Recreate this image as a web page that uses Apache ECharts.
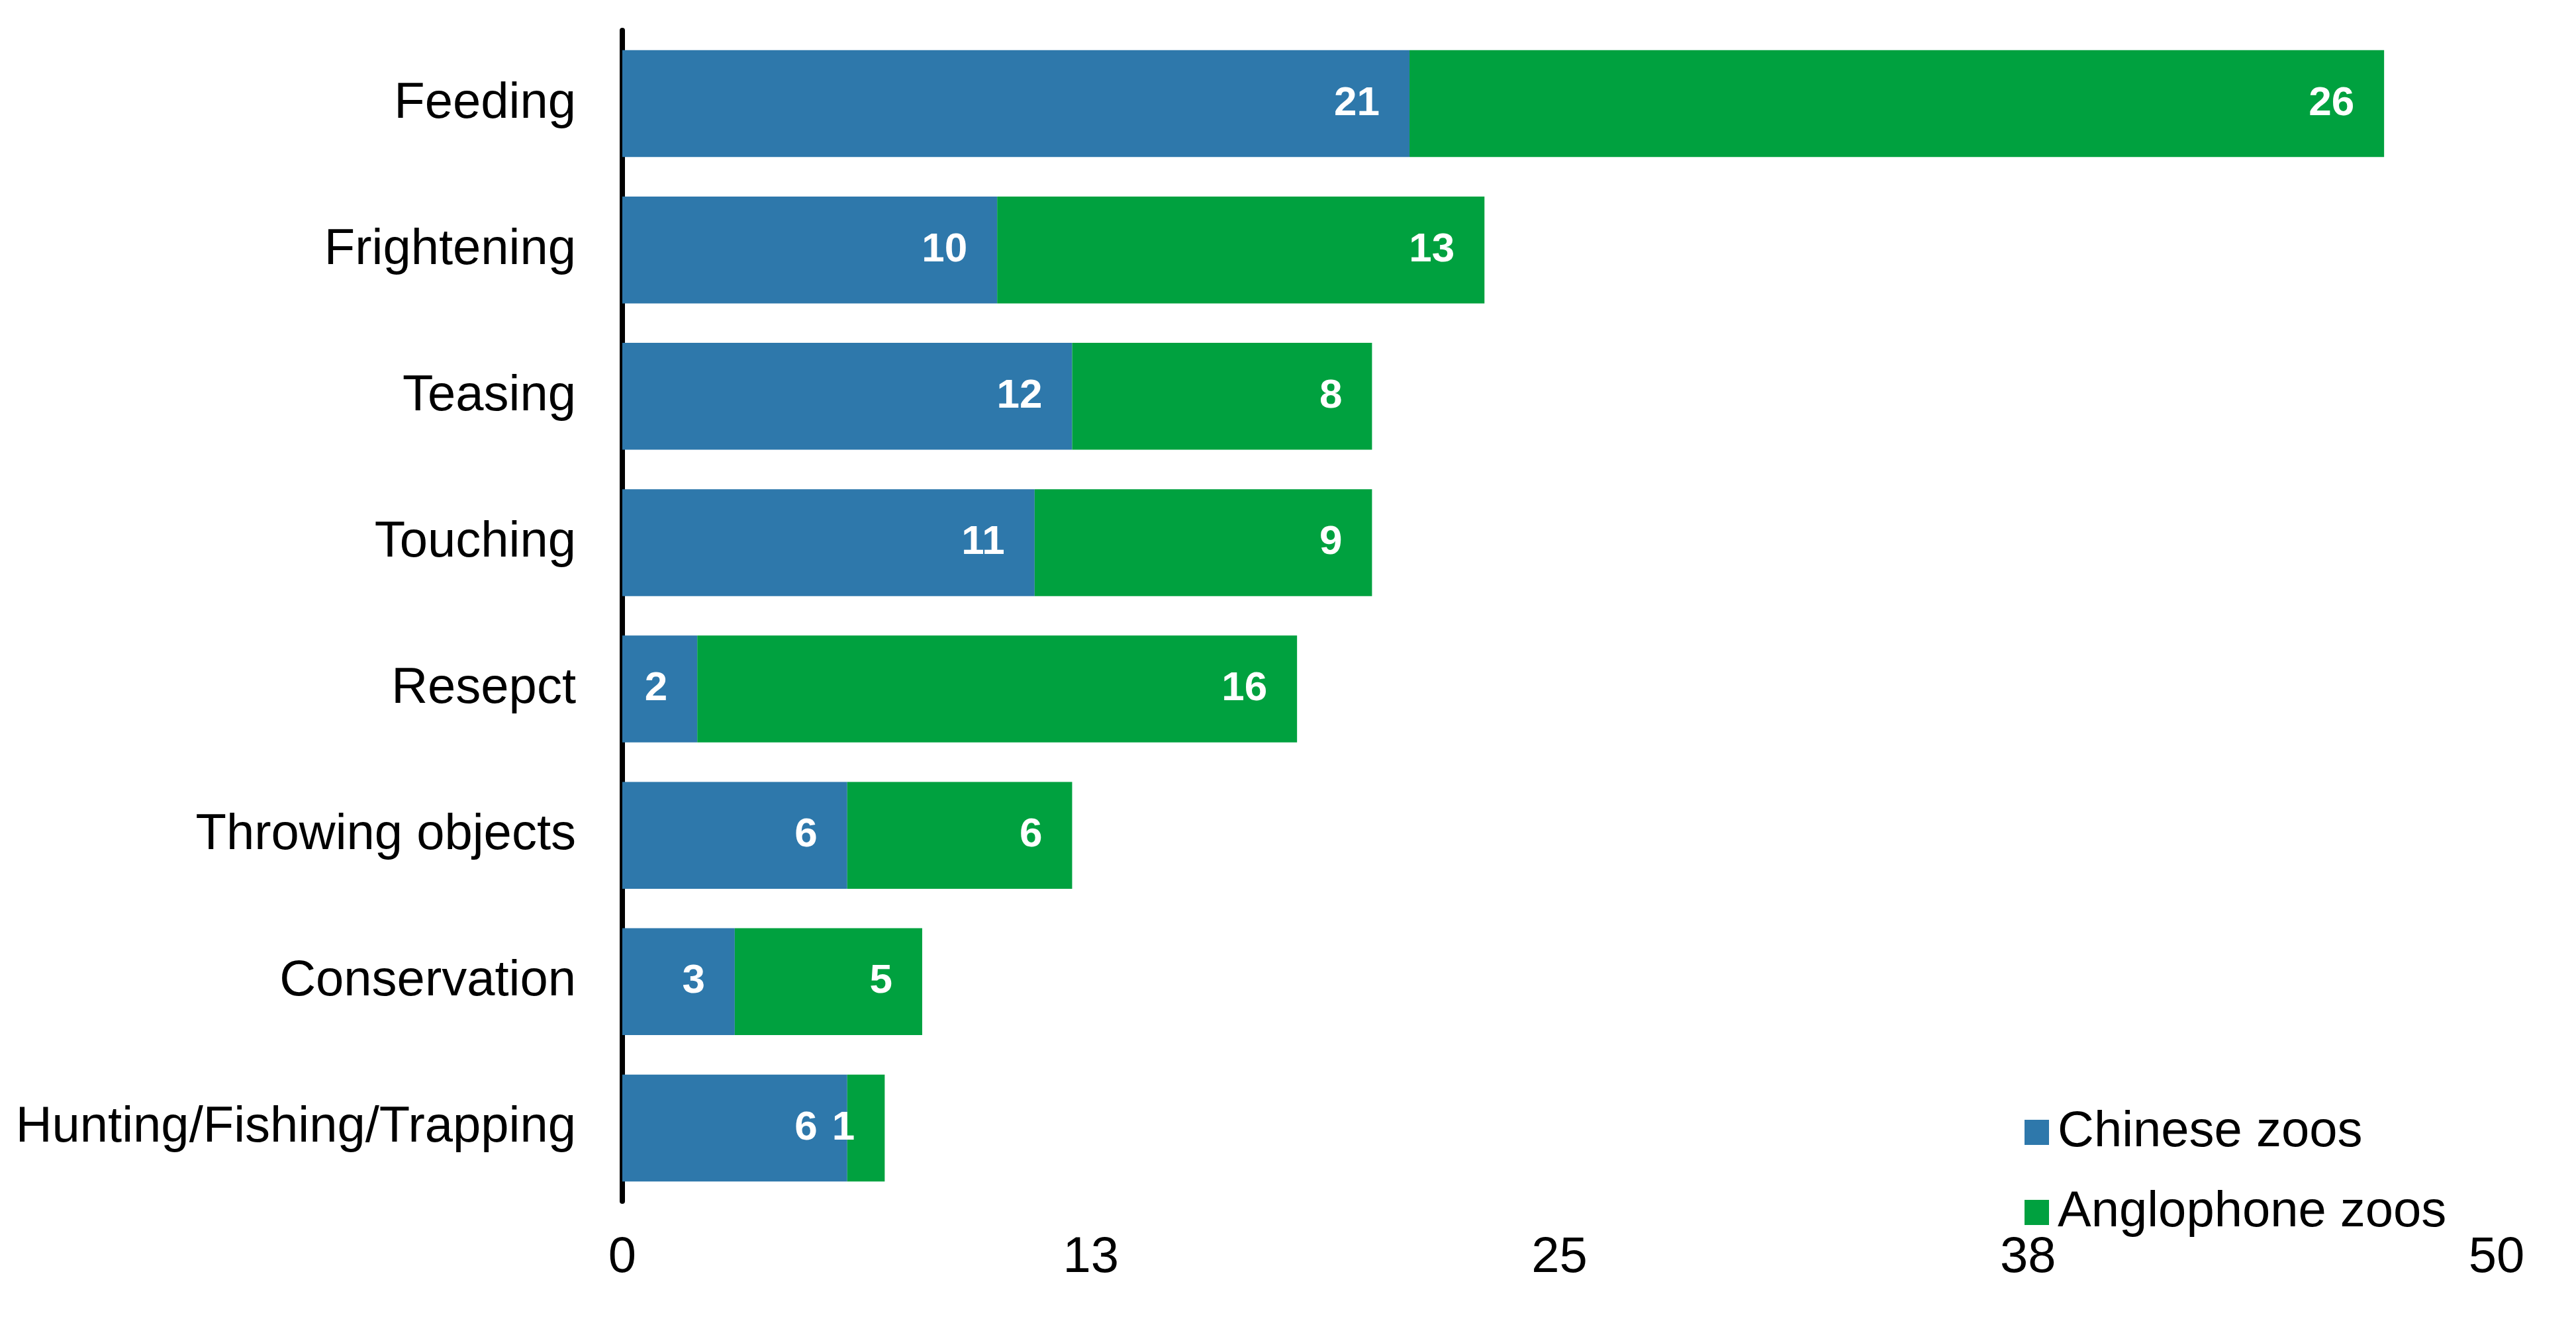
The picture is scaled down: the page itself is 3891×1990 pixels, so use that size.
<!DOCTYPE html>
<html>
<head>
<meta charset="utf-8">
<script src="https://cdn.jsdelivr.net/npm/echarts@6/dist/echarts.min.js"></script>
<style>
html,body{margin:0;padding:0;background:#fff;}
#chart{width:3891px;height:1990px;}
</style>
</head>
<body>
<div id="chart"></div>
<script>
const categories = ["Feeding","Frightening","Teasing","Touching","Resepct","Throwing objects","Conservation","Hunting/Fishing/Trapping"];
const chineseZoos = [21,10,12,11,2,6,3,6];
const anglophoneZoos = [26,13,8,9,16,6,5,1];
const seriesNames = ["Chinese zoos","Anglophone zoos"];

const FONT = '"Liberation Sans", Arial, sans-serif';
const chart = echarts.init(document.getElementById('chart'));
const labelCfg = {
  show: true, position: 'insideRight', distance: 45,
  color: '#fff', fontSize: 62, fontWeight: 'bold', fontFamily: FONT
};
chart.setOption({
  animation: false,
  backgroundColor: '#fff',
  grid: {left: 940, right: 120, top: 46, bottom: 175, containLabel: false},
  legend: {
    orient: 'vertical', left: 3053, top: 1668,
    itemWidth: 37, itemHeight: 38, itemGap: 45,
    icon: 'rect',
    textStyle: {fontSize: 76, color: '#000', fontFamily: FONT, padding: [0,0,0,8]},
    data: seriesNames
  },
  xAxis: {
    type: 'value', min: 0, max: 50, interval: 12.5,
    axisLine: {show: false}, axisTick: {show: false}, splitLine: {show: false},
    axisLabel: {fontSize: 76, color: '#000', fontFamily: FONT, margin: 48,
      formatter: v => String(Math.round(v))}
  },
  yAxis: {
    type: 'category', data: categories, inverse: true,
    axisLine: {show: true, lineStyle: {color: '#000', width: 8}},
    axisTick: {show: false},
    axisLabel: {fontSize: 76, color: '#000', fontFamily: FONT, margin: 70}
  },
  series: [
    {name: seriesNames[0], type: 'bar', stack: 'a', data: chineseZoos,
     barCategoryGap: '27%', itemStyle: {color: '#2E78AB'}, label: labelCfg},
    {name: seriesNames[1], type: 'bar', stack: 'a', data: anglophoneZoos,
     barCategoryGap: '27%', itemStyle: {color: '#00A13F'}, label: labelCfg}
  ]
});
</script>
</body>
</html>
